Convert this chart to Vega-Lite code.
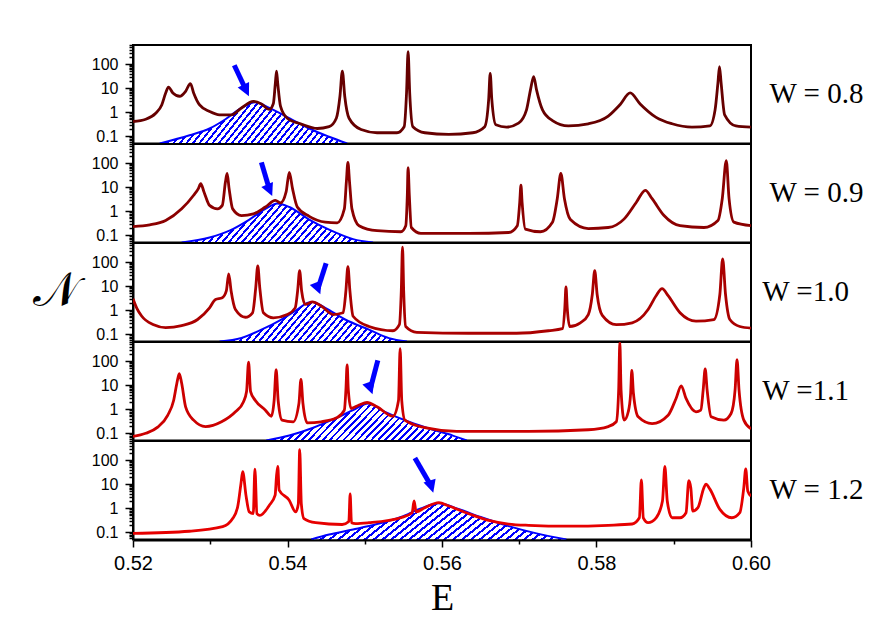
{
  "$schema": "https://vega.github.io/schema/vega-lite/v6.json",
  "background": "white",
  "padding": {"left": 33, "top": 44, "right": 5, "bottom": 5},
  "data": {
    "values": [
      {"W": 0.8, "kind": "curve", "E": 0.52, "N": 0.41},
      {"W": 0.8, "kind": "curve", "E": 0.52165, "N": 0.51},
      {"W": 0.8, "kind": "curve", "E": 0.52294, "N": 0.91},
      {"W": 0.8, "kind": "curve", "E": 0.52372, "N": 2.0},
      {"W": 0.8, "kind": "curve", "E": 0.52423, "N": 6.3},
      {"W": 0.8, "kind": "curve", "E": 0.52459, "N": 11},
      {"W": 0.8, "kind": "curve", "E": 0.52516, "N": 6.3},
      {"W": 0.8, "kind": "curve", "E": 0.52604, "N": 4.6},
      {"W": 0.8, "kind": "curve", "E": 0.52681, "N": 7.4},
      {"W": 0.8, "kind": "curve", "E": 0.52743, "N": 15.5},
      {"W": 0.8, "kind": "curve", "E": 0.52785, "N": 6.3},
      {"W": 0.8, "kind": "curve", "E": 0.52862, "N": 2.0},
      {"W": 0.8, "kind": "curve", "E": 0.52991, "N": 1.07},
      {"W": 0.8, "kind": "curve", "E": 0.5312, "N": 0.78},
      {"W": 0.8, "kind": "curve", "E": 0.53275, "N": 0.78},
      {"W": 0.8, "kind": "curve", "E": 0.53404, "N": 1.5},
      {"W": 0.8, "kind": "curve", "E": 0.53559, "N": 2.8},
      {"W": 0.8, "kind": "curve", "E": 0.53662, "N": 2.2},
      {"W": 0.8, "kind": "curve", "E": 0.53765, "N": 1.3},
      {"W": 0.8, "kind": "curve", "E": 0.53817, "N": 2.3},
      {"W": 0.8, "kind": "curve", "E": 0.53843, "N": 16.6},
      {"W": 0.8, "kind": "curve", "E": 0.53858, "N": 51},
      {"W": 0.8, "kind": "curve", "E": 0.53873, "N": 16.6},
      {"W": 0.8, "kind": "curve", "E": 0.5391, "N": 1.74},
      {"W": 0.8, "kind": "curve", "E": 0.53997, "N": 0.56},
      {"W": 0.8, "kind": "curve", "E": 0.54178, "N": 0.32},
      {"W": 0.8, "kind": "curve", "E": 0.54385, "N": 0.21},
      {"W": 0.8, "kind": "curve", "E": 0.54539, "N": 0.25},
      {"W": 0.8, "kind": "curve", "E": 0.54632, "N": 0.56},
      {"W": 0.8, "kind": "curve", "E": 0.54679, "N": 4.6},
      {"W": 0.8, "kind": "curve", "E": 0.5471, "N": 51},
      {"W": 0.8, "kind": "curve", "E": 0.54741, "N": 4.6},
      {"W": 0.8, "kind": "curve", "E": 0.54797, "N": 0.56},
      {"W": 0.8, "kind": "curve", "E": 0.54952, "N": 0.19},
      {"W": 0.8, "kind": "curve", "E": 0.55159, "N": 0.14},
      {"W": 0.8, "kind": "curve", "E": 0.55417, "N": 0.14},
      {"W": 0.8, "kind": "curve", "E": 0.5551, "N": 0.25},
      {"W": 0.8, "kind": "curve", "E": 0.55541, "N": 6.3},
      {"W": 0.8, "kind": "curve", "E": 0.55561, "N": 330},
      {"W": 0.8, "kind": "curve", "E": 0.55582, "N": 6.3},
      {"W": 0.8, "kind": "curve", "E": 0.55623, "N": 0.25},
      {"W": 0.8, "kind": "curve", "E": 0.55778, "N": 0.14},
      {"W": 0.8, "kind": "curve", "E": 0.56088, "N": 0.12},
      {"W": 0.8, "kind": "curve", "E": 0.56398, "N": 0.14},
      {"W": 0.8, "kind": "curve", "E": 0.56553, "N": 0.25},
      {"W": 0.8, "kind": "curve", "E": 0.56604, "N": 3.3},
      {"W": 0.8, "kind": "curve", "E": 0.56624, "N": 41},
      {"W": 0.8, "kind": "curve", "E": 0.56645, "N": 3.3},
      {"W": 0.8, "kind": "curve", "E": 0.56697, "N": 0.3},
      {"W": 0.8, "kind": "curve", "E": 0.56836, "N": 0.24},
      {"W": 0.8, "kind": "curve", "E": 0.56991, "N": 0.35},
      {"W": 0.8, "kind": "curve", "E": 0.57094, "N": 1.25},
      {"W": 0.8, "kind": "curve", "E": 0.57146, "N": 8.7},
      {"W": 0.8, "kind": "curve", "E": 0.57187, "N": 30},
      {"W": 0.8, "kind": "curve", "E": 0.57223, "N": 8.7},
      {"W": 0.8, "kind": "curve", "E": 0.57301, "N": 1.25},
      {"W": 0.8, "kind": "curve", "E": 0.5743, "N": 0.45},
      {"W": 0.8, "kind": "curve", "E": 0.57636, "N": 0.27},
      {"W": 0.8, "kind": "curve", "E": 0.57894, "N": 0.33},
      {"W": 0.8, "kind": "curve", "E": 0.58152, "N": 0.69},
      {"W": 0.8, "kind": "curve", "E": 0.58307, "N": 2.1},
      {"W": 0.8, "kind": "curve", "E": 0.58436, "N": 6.3},
      {"W": 0.8, "kind": "curve", "E": 0.58565, "N": 2.2},
      {"W": 0.8, "kind": "curve", "E": 0.58772, "N": 0.61},
      {"W": 0.8, "kind": "curve", "E": 0.58978, "N": 0.33},
      {"W": 0.8, "kind": "curve", "E": 0.59236, "N": 0.24},
      {"W": 0.8, "kind": "curve", "E": 0.59468, "N": 0.27},
      {"W": 0.8, "kind": "curve", "E": 0.59535, "N": 1.25},
      {"W": 0.8, "kind": "curve", "E": 0.59572, "N": 16.6},
      {"W": 0.8, "kind": "curve", "E": 0.59592, "N": 78},
      {"W": 0.8, "kind": "curve", "E": 0.59613, "N": 16.6},
      {"W": 0.8, "kind": "curve", "E": 0.59659, "N": 0.78},
      {"W": 0.8, "kind": "curve", "E": 0.59804, "N": 0.27},
      {"W": 0.8, "kind": "curve", "E": 0.6, "N": 0.24},

      {"W": 0.9, "kind": "curve", "E": 0.52, "N": 0.23},
      {"W": 0.9, "kind": "curve", "E": 0.52217, "N": 0.27},
      {"W": 0.9, "kind": "curve", "E": 0.52423, "N": 0.41},
      {"W": 0.9, "kind": "curve", "E": 0.5263, "N": 1.25},
      {"W": 0.9, "kind": "curve", "E": 0.52785, "N": 4.6},
      {"W": 0.9, "kind": "curve", "E": 0.52846, "N": 8.7},
      {"W": 0.9, "kind": "curve", "E": 0.52877, "N": 14},
      {"W": 0.9, "kind": "curve", "E": 0.52919, "N": 6.3},
      {"W": 0.9, "kind": "curve", "E": 0.52991, "N": 1.74},
      {"W": 0.9, "kind": "curve", "E": 0.53094, "N": 1.25},
      {"W": 0.9, "kind": "curve", "E": 0.53156, "N": 1.74},
      {"W": 0.9, "kind": "curve", "E": 0.53197, "N": 16.6},
      {"W": 0.9, "kind": "curve", "E": 0.53218, "N": 37},
      {"W": 0.9, "kind": "curve", "E": 0.53244, "N": 8.7},
      {"W": 0.9, "kind": "curve", "E": 0.5329, "N": 1.25},
      {"W": 0.9, "kind": "curve", "E": 0.53404, "N": 0.66},
      {"W": 0.9, "kind": "curve", "E": 0.53559, "N": 0.78},
      {"W": 0.9, "kind": "curve", "E": 0.53714, "N": 1.5},
      {"W": 0.9, "kind": "curve", "E": 0.53843, "N": 2.8},
      {"W": 0.9, "kind": "curve", "E": 0.5391, "N": 2.2},
      {"W": 0.9, "kind": "curve", "E": 0.53982, "N": 6.3},
      {"W": 0.9, "kind": "curve", "E": 0.54023, "N": 41},
      {"W": 0.9, "kind": "curve", "E": 0.54065, "N": 8.7},
      {"W": 0.9, "kind": "curve", "E": 0.54127, "N": 1.5},
      {"W": 0.9, "kind": "curve", "E": 0.54281, "N": 0.61},
      {"W": 0.9, "kind": "curve", "E": 0.54488, "N": 0.35},
      {"W": 0.9, "kind": "curve", "E": 0.54643, "N": 0.33},
      {"W": 0.9, "kind": "curve", "E": 0.54736, "N": 1.25},
      {"W": 0.9, "kind": "curve", "E": 0.54762, "N": 16.6},
      {"W": 0.9, "kind": "curve", "E": 0.54782, "N": 107},
      {"W": 0.9, "kind": "curve", "E": 0.54803, "N": 16.6},
      {"W": 0.9, "kind": "curve", "E": 0.54834, "N": 1.25},
      {"W": 0.9, "kind": "curve", "E": 0.54926, "N": 0.25},
      {"W": 0.9, "kind": "curve", "E": 0.55159, "N": 0.155},
      {"W": 0.9, "kind": "curve", "E": 0.55468, "N": 0.14},
      {"W": 0.9, "kind": "curve", "E": 0.55531, "N": 0.25},
      {"W": 0.9, "kind": "curve", "E": 0.55551, "N": 4.6},
      {"W": 0.9, "kind": "curve", "E": 0.55561, "N": 65},
      {"W": 0.9, "kind": "curve", "E": 0.55577, "N": 4.6},
      {"W": 0.9, "kind": "curve", "E": 0.55603, "N": 0.21},
      {"W": 0.9, "kind": "curve", "E": 0.55726, "N": 0.12},
      {"W": 0.9, "kind": "curve", "E": 0.56346, "N": 0.12},
      {"W": 0.9, "kind": "curve", "E": 0.56862, "N": 0.13},
      {"W": 0.9, "kind": "curve", "E": 0.56975, "N": 0.25},
      {"W": 0.9, "kind": "curve", "E": 0.57006, "N": 2.3},
      {"W": 0.9, "kind": "curve", "E": 0.57022, "N": 12},
      {"W": 0.9, "kind": "curve", "E": 0.57037, "N": 2.3},
      {"W": 0.9, "kind": "curve", "E": 0.57079, "N": 0.18},
      {"W": 0.9, "kind": "curve", "E": 0.57275, "N": 0.14},
      {"W": 0.9, "kind": "curve", "E": 0.5743, "N": 0.35},
      {"W": 0.9, "kind": "curve", "E": 0.57492, "N": 3.3},
      {"W": 0.9, "kind": "curve", "E": 0.57538, "N": 37},
      {"W": 0.9, "kind": "curve", "E": 0.57585, "N": 3.3},
      {"W": 0.9, "kind": "curve", "E": 0.57662, "N": 0.45},
      {"W": 0.9, "kind": "curve", "E": 0.57894, "N": 0.19},
      {"W": 0.9, "kind": "curve", "E": 0.58152, "N": 0.21},
      {"W": 0.9, "kind": "curve", "E": 0.58359, "N": 0.48},
      {"W": 0.9, "kind": "curve", "E": 0.58514, "N": 2.3},
      {"W": 0.9, "kind": "curve", "E": 0.58632, "N": 7.4},
      {"W": 0.9, "kind": "curve", "E": 0.5872, "N": 3.3},
      {"W": 0.9, "kind": "curve", "E": 0.58874, "N": 0.66},
      {"W": 0.9, "kind": "curve", "E": 0.59081, "N": 0.25},
      {"W": 0.9, "kind": "curve", "E": 0.59391, "N": 0.21},
      {"W": 0.9, "kind": "curve", "E": 0.59572, "N": 0.41},
      {"W": 0.9, "kind": "curve", "E": 0.59628, "N": 3.3},
      {"W": 0.9, "kind": "curve", "E": 0.5968, "N": 125},
      {"W": 0.9, "kind": "curve", "E": 0.59716, "N": 3.3},
      {"W": 0.9, "kind": "curve", "E": 0.59778, "N": 0.35},
      {"W": 0.9, "kind": "curve", "E": 0.6, "N": 0.25},

      {"W": 1, "kind": "curve", "E": 0.52, "N": 3.0},
      {"W": 1, "kind": "curve", "E": 0.5205, "N": 1.2},
      {"W": 1, "kind": "curve", "E": 0.52114, "N": 0.56},
      {"W": 1, "kind": "curve", "E": 0.52268, "N": 0.25},
      {"W": 1, "kind": "curve", "E": 0.52423, "N": 0.19},
      {"W": 1, "kind": "curve", "E": 0.5263, "N": 0.23},
      {"W": 1, "kind": "curve", "E": 0.52836, "N": 0.41},
      {"W": 1, "kind": "curve", "E": 0.52991, "N": 1.25},
      {"W": 1, "kind": "curve", "E": 0.53068, "N": 2.8},
      {"W": 1, "kind": "curve", "E": 0.53156, "N": 3.3},
      {"W": 1, "kind": "curve", "E": 0.53208, "N": 6.3},
      {"W": 1, "kind": "curve", "E": 0.53239, "N": 32},
      {"W": 1, "kind": "curve", "E": 0.5327, "N": 6.3},
      {"W": 1, "kind": "curve", "E": 0.53326, "N": 1.07},
      {"W": 1, "kind": "curve", "E": 0.53455, "N": 0.51},
      {"W": 1, "kind": "curve", "E": 0.53548, "N": 0.78},
      {"W": 1, "kind": "curve", "E": 0.53589, "N": 8.7},
      {"W": 1, "kind": "curve", "E": 0.53615, "N": 70},
      {"W": 1, "kind": "curve", "E": 0.53641, "N": 8.7},
      {"W": 1, "kind": "curve", "E": 0.53688, "N": 0.78},
      {"W": 1, "kind": "curve", "E": 0.53817, "N": 0.48},
      {"W": 1, "kind": "curve", "E": 0.53997, "N": 0.66},
      {"W": 1, "kind": "curve", "E": 0.541, "N": 1.25},
      {"W": 1, "kind": "curve", "E": 0.54131, "N": 6.3},
      {"W": 1, "kind": "curve", "E": 0.54157, "N": 44},
      {"W": 1, "kind": "curve", "E": 0.54183, "N": 6.3},
      {"W": 1, "kind": "curve", "E": 0.5423, "N": 1.74},
      {"W": 1, "kind": "curve", "E": 0.54323, "N": 2.2},
      {"W": 1, "kind": "curve", "E": 0.54436, "N": 1.5},
      {"W": 1, "kind": "curve", "E": 0.54591, "N": 0.66},
      {"W": 1, "kind": "curve", "E": 0.5472, "N": 0.78},
      {"W": 1, "kind": "curve", "E": 0.54756, "N": 6.3},
      {"W": 1, "kind": "curve", "E": 0.54782, "N": 65},
      {"W": 1, "kind": "curve", "E": 0.54808, "N": 6.3},
      {"W": 1, "kind": "curve", "E": 0.54849, "N": 0.56},
      {"W": 1, "kind": "curve", "E": 0.55055, "N": 0.21},
      {"W": 1, "kind": "curve", "E": 0.55365, "N": 0.14},
      {"W": 1, "kind": "curve", "E": 0.55448, "N": 0.25},
      {"W": 1, "kind": "curve", "E": 0.55473, "N": 6.3},
      {"W": 1, "kind": "curve", "E": 0.55489, "N": 420},
      {"W": 1, "kind": "curve", "E": 0.55504, "N": 6.3},
      {"W": 1, "kind": "curve", "E": 0.5553, "N": 0.21},
      {"W": 1, "kind": "curve", "E": 0.55674, "N": 0.12},
      {"W": 1, "kind": "curve", "E": 0.56346, "N": 0.11},
      {"W": 1, "kind": "curve", "E": 0.56965, "N": 0.11},
      {"W": 1, "kind": "curve", "E": 0.57378, "N": 0.14},
      {"W": 1, "kind": "curve", "E": 0.57559, "N": 0.17},
      {"W": 1, "kind": "curve", "E": 0.5759, "N": 1.25},
      {"W": 1, "kind": "curve", "E": 0.57605, "N": 9.4},
      {"W": 1, "kind": "curve", "E": 0.57621, "N": 1.25},
      {"W": 1, "kind": "curve", "E": 0.57652, "N": 0.21},
      {"W": 1, "kind": "curve", "E": 0.57791, "N": 0.3},
      {"W": 1, "kind": "curve", "E": 0.57894, "N": 0.66},
      {"W": 1, "kind": "curve", "E": 0.57946, "N": 4.6},
      {"W": 1, "kind": "curve", "E": 0.57977, "N": 44},
      {"W": 1, "kind": "curve", "E": 0.58008, "N": 4.6},
      {"W": 1, "kind": "curve", "E": 0.58075, "N": 0.61},
      {"W": 1, "kind": "curve", "E": 0.58256, "N": 0.25},
      {"W": 1, "kind": "curve", "E": 0.58462, "N": 0.3},
      {"W": 1, "kind": "curve", "E": 0.58668, "N": 1.07},
      {"W": 1, "kind": "curve", "E": 0.58772, "N": 4.0},
      {"W": 1, "kind": "curve", "E": 0.58849, "N": 7.9},
      {"W": 1, "kind": "curve", "E": 0.58927, "N": 4.0},
      {"W": 1, "kind": "curve", "E": 0.59081, "N": 0.78},
      {"W": 1, "kind": "curve", "E": 0.59288, "N": 0.35},
      {"W": 1, "kind": "curve", "E": 0.5952, "N": 0.41},
      {"W": 1, "kind": "curve", "E": 0.59597, "N": 4.6},
      {"W": 1, "kind": "curve", "E": 0.59633, "N": 135},
      {"W": 1, "kind": "curve", "E": 0.5967, "N": 4.6},
      {"W": 1, "kind": "curve", "E": 0.59726, "N": 0.41},
      {"W": 1, "kind": "curve", "E": 0.59855, "N": 0.21},
      {"W": 1, "kind": "curve", "E": 0.6, "N": 0.18},

      {"W": 1.1, "kind": "curve", "E": 0.52, "N": 0.074},
      {"W": 1.1, "kind": "curve", "E": 0.52165, "N": 0.1},
      {"W": 1.1, "kind": "curve", "E": 0.5232, "N": 0.18},
      {"W": 1.1, "kind": "curve", "E": 0.52449, "N": 0.56},
      {"W": 1.1, "kind": "curve", "E": 0.52526, "N": 2.3},
      {"W": 1.1, "kind": "curve", "E": 0.52568, "N": 12},
      {"W": 1.1, "kind": "curve", "E": 0.52599, "N": 30},
      {"W": 1.1, "kind": "curve", "E": 0.5263, "N": 12},
      {"W": 1.1, "kind": "curve", "E": 0.52681, "N": 1.25},
      {"W": 1.1, "kind": "curve", "E": 0.52785, "N": 0.35},
      {"W": 1.1, "kind": "curve", "E": 0.52939, "N": 0.19},
      {"W": 1.1, "kind": "curve", "E": 0.53146, "N": 0.3},
      {"W": 1.1, "kind": "curve", "E": 0.53326, "N": 0.78},
      {"W": 1.1, "kind": "curve", "E": 0.53429, "N": 2.0},
      {"W": 1.1, "kind": "curve", "E": 0.5347, "N": 5.4},
      {"W": 1.1, "kind": "curve", "E": 0.53496, "N": 90},
      {"W": 1.1, "kind": "curve", "E": 0.53522, "N": 5.4},
      {"W": 1.1, "kind": "curve", "E": 0.53584, "N": 2.3},
      {"W": 1.1, "kind": "curve", "E": 0.53714, "N": 0.91},
      {"W": 1.1, "kind": "curve", "E": 0.53791, "N": 0.51},
      {"W": 1.1, "kind": "curve", "E": 0.53827, "N": 2.3},
      {"W": 1.1, "kind": "curve", "E": 0.53853, "N": 44},
      {"W": 1.1, "kind": "curve", "E": 0.53879, "N": 2.3},
      {"W": 1.1, "kind": "curve", "E": 0.5393, "N": 0.35},
      {"W": 1.1, "kind": "curve", "E": 0.54075, "N": 0.3},
      {"W": 1.1, "kind": "curve", "E": 0.54148, "N": 1.74},
      {"W": 1.1, "kind": "curve", "E": 0.54174, "N": 17.5},
      {"W": 1.1, "kind": "curve", "E": 0.542, "N": 1.74},
      {"W": 1.1, "kind": "curve", "E": 0.54256, "N": 0.27},
      {"W": 1.1, "kind": "curve", "E": 0.54436, "N": 0.3},
      {"W": 1.1, "kind": "curve", "E": 0.54643, "N": 0.45},
      {"W": 1.1, "kind": "curve", "E": 0.54736, "N": 0.91},
      {"W": 1.1, "kind": "curve", "E": 0.54756, "N": 6.3},
      {"W": 1.1, "kind": "curve", "E": 0.54772, "N": 70},
      {"W": 1.1, "kind": "curve", "E": 0.54787, "N": 6.3},
      {"W": 1.1, "kind": "curve", "E": 0.54823, "N": 1.07},
      {"W": 1.1, "kind": "curve", "E": 0.54926, "N": 1.5},
      {"W": 1.1, "kind": "curve", "E": 0.5503, "N": 1.9},
      {"W": 1.1, "kind": "curve", "E": 0.55159, "N": 1.25},
      {"W": 1.1, "kind": "curve", "E": 0.55365, "N": 0.51},
      {"W": 1.1, "kind": "curve", "E": 0.55437, "N": 2.3},
      {"W": 1.1, "kind": "curve", "E": 0.55458, "N": 330},
      {"W": 1.1, "kind": "curve", "E": 0.55479, "N": 2.3},
      {"W": 1.1, "kind": "curve", "E": 0.5552, "N": 0.35},
      {"W": 1.1, "kind": "curve", "E": 0.55778, "N": 0.17},
      {"W": 1.1, "kind": "curve", "E": 0.56191, "N": 0.12},
      {"W": 1.1, "kind": "curve", "E": 0.5712, "N": 0.12},
      {"W": 1.1, "kind": "curve", "E": 0.57894, "N": 0.14},
      {"W": 1.1, "kind": "curve", "E": 0.58152, "N": 0.19},
      {"W": 1.1, "kind": "curve", "E": 0.58256, "N": 0.3},
      {"W": 1.1, "kind": "curve", "E": 0.58287, "N": 6.3},
      {"W": 1.1, "kind": "curve", "E": 0.58302, "N": 600},
      {"W": 1.1, "kind": "curve", "E": 0.58318, "N": 6.3},
      {"W": 1.1, "kind": "curve", "E": 0.58359, "N": 0.35},
      {"W": 1.1, "kind": "curve", "E": 0.58411, "N": 0.78},
      {"W": 1.1, "kind": "curve", "E": 0.58442, "N": 4.6},
      {"W": 1.1, "kind": "curve", "E": 0.58457, "N": 41},
      {"W": 1.1, "kind": "curve", "E": 0.58478, "N": 4.6},
      {"W": 1.1, "kind": "curve", "E": 0.5854, "N": 0.48},
      {"W": 1.1, "kind": "curve", "E": 0.5872, "N": 0.25},
      {"W": 1.1, "kind": "curve", "E": 0.58927, "N": 0.56},
      {"W": 1.1, "kind": "curve", "E": 0.5903, "N": 2.8},
      {"W": 1.1, "kind": "curve", "E": 0.59097, "N": 9.4},
      {"W": 1.1, "kind": "curve", "E": 0.59159, "N": 2.8},
      {"W": 1.1, "kind": "curve", "E": 0.59288, "N": 0.78},
      {"W": 1.1, "kind": "curve", "E": 0.5935, "N": 0.91},
      {"W": 1.1, "kind": "curve", "E": 0.59381, "N": 6.3},
      {"W": 1.1, "kind": "curve", "E": 0.59407, "N": 47},
      {"W": 1.1, "kind": "curve", "E": 0.59432, "N": 6.3},
      {"W": 1.1, "kind": "curve", "E": 0.59484, "N": 0.48},
      {"W": 1.1, "kind": "curve", "E": 0.59649, "N": 0.35},
      {"W": 1.1, "kind": "curve", "E": 0.59742, "N": 0.66},
      {"W": 1.1, "kind": "curve", "E": 0.59794, "N": 6.3},
      {"W": 1.1, "kind": "curve", "E": 0.59819, "N": 115},
      {"W": 1.1, "kind": "curve", "E": 0.59845, "N": 6.3},
      {"W": 1.1, "kind": "curve", "E": 0.59907, "N": 0.35},
      {"W": 1.1, "kind": "curve", "E": 0.6, "N": 0.155},

      {"W": 1.2, "kind": "curve", "E": 0.52, "N": 0.09},
      {"W": 1.2, "kind": "curve", "E": 0.52731, "N": 0.11},
      {"W": 1.2, "kind": "curve", "E": 0.53161, "N": 0.17},
      {"W": 1.2, "kind": "curve", "E": 0.5329, "N": 0.37},
      {"W": 1.2, "kind": "curve", "E": 0.53355, "N": 1.15},
      {"W": 1.2, "kind": "curve", "E": 0.53398, "N": 10.8},
      {"W": 1.2, "kind": "curve", "E": 0.5342, "N": 33},
      {"W": 1.2, "kind": "curve", "E": 0.53462, "N": 3.5},
      {"W": 1.2, "kind": "curve", "E": 0.53505, "N": 0.7},
      {"W": 1.2, "kind": "curve", "E": 0.53557, "N": 0.6},
      {"W": 1.2, "kind": "curve", "E": 0.53578, "N": 42},
      {"W": 1.2, "kind": "curve", "E": 0.53604, "N": 0.6},
      {"W": 1.2, "kind": "curve", "E": 0.53642, "N": 0.5},
      {"W": 1.2, "kind": "curve", "E": 0.53763, "N": 1.3},
      {"W": 1.2, "kind": "curve", "E": 0.5384, "N": 3.5},
      {"W": 1.2, "kind": "curve", "E": 0.53857, "N": 20},
      {"W": 1.2, "kind": "curve", "E": 0.53874, "N": 54},
      {"W": 1.2, "kind": "curve", "E": 0.53892, "N": 5.7},
      {"W": 1.2, "kind": "curve", "E": 0.5402, "N": 2.2},
      {"W": 1.2, "kind": "curve", "E": 0.54106, "N": 0.7},
      {"W": 1.2, "kind": "curve", "E": 0.5414, "N": 1.5},
      {"W": 1.2, "kind": "curve", "E": 0.54158, "N": 270},
      {"W": 1.2, "kind": "curve", "E": 0.54179, "N": 1.5},
      {"W": 1.2, "kind": "curve", "E": 0.54213, "N": 0.37},
      {"W": 1.2, "kind": "curve", "E": 0.54364, "N": 0.25},
      {"W": 1.2, "kind": "curve", "E": 0.54708, "N": 0.21},
      {"W": 1.2, "kind": "curve", "E": 0.54794, "N": 0.28},
      {"W": 1.2, "kind": "curve", "E": 0.54811, "N": 3.9},
      {"W": 1.2, "kind": "curve", "E": 0.54828, "N": 0.25},
      {"W": 1.2, "kind": "curve", "E": 0.5488, "N": 0.23},
      {"W": 1.2, "kind": "curve", "E": 0.55055, "N": 0.25},
      {"W": 1.2, "kind": "curve", "E": 0.55468, "N": 0.4},
      {"W": 1.2, "kind": "curve", "E": 0.55613, "N": 0.65},
      {"W": 1.2, "kind": "curve", "E": 0.55639, "N": 2.0},
      {"W": 1.2, "kind": "curve", "E": 0.55665, "N": 0.71},
      {"W": 1.2, "kind": "curve", "E": 0.55778, "N": 1.05},
      {"W": 1.2, "kind": "curve", "E": 0.55959, "N": 1.7},
      {"W": 1.2, "kind": "curve", "E": 0.56088, "N": 1.23},
      {"W": 1.2, "kind": "curve", "E": 0.56346, "N": 0.59},
      {"W": 1.2, "kind": "curve", "E": 0.56604, "N": 0.31},
      {"W": 1.2, "kind": "curve", "E": 0.56862, "N": 0.22},
      {"W": 1.2, "kind": "curve", "E": 0.5712, "N": 0.195},
      {"W": 1.2, "kind": "curve", "E": 0.57636, "N": 0.18},
      {"W": 1.2, "kind": "curve", "E": 0.58152, "N": 0.195},
      {"W": 1.2, "kind": "curve", "E": 0.58462, "N": 0.22},
      {"W": 1.2, "kind": "curve", "E": 0.58555, "N": 0.4},
      {"W": 1.2, "kind": "curve", "E": 0.58581, "N": 15},
      {"W": 1.2, "kind": "curve", "E": 0.58606, "N": 0.4},
      {"W": 1.2, "kind": "curve", "E": 0.58668, "N": 0.25},
      {"W": 1.2, "kind": "curve", "E": 0.58772, "N": 0.4},
      {"W": 1.2, "kind": "curve", "E": 0.58854, "N": 2.0},
      {"W": 1.2, "kind": "curve", "E": 0.58885, "N": 54},
      {"W": 1.2, "kind": "curve", "E": 0.58916, "N": 2.0},
      {"W": 1.2, "kind": "curve", "E": 0.58978, "N": 0.4},
      {"W": 1.2, "kind": "curve", "E": 0.59081, "N": 0.4},
      {"W": 1.2, "kind": "curve", "E": 0.59159, "N": 0.65},
      {"W": 1.2, "kind": "curve", "E": 0.59195, "N": 14},
      {"W": 1.2, "kind": "curve", "E": 0.59221, "N": 7},
      {"W": 1.2, "kind": "curve", "E": 0.59246, "N": 0.76},
      {"W": 1.2, "kind": "curve", "E": 0.59313, "N": 1.05},
      {"W": 1.2, "kind": "curve", "E": 0.59391, "N": 7.2},
      {"W": 1.2, "kind": "curve", "E": 0.59417, "N": 10},
      {"W": 1.2, "kind": "curve", "E": 0.59468, "N": 6.2},
      {"W": 1.2, "kind": "curve", "E": 0.59597, "N": 0.89},
      {"W": 1.2, "kind": "curve", "E": 0.59752, "N": 0.4},
      {"W": 1.2, "kind": "curve", "E": 0.59855, "N": 0.65},
      {"W": 1.2, "kind": "curve", "E": 0.59907, "N": 7.2},
      {"W": 1.2, "kind": "curve", "E": 0.59932, "N": 43},
      {"W": 1.2, "kind": "curve", "E": 0.59958, "N": 5.2},
      {"W": 1.2, "kind": "curve", "E": 0.6, "N": 3.2},

      {"W": 0.8, "kind": "band", "E": 0.52346, "N": 0.05},
      {"W": 0.8, "kind": "band", "E": 0.52733, "N": 0.11},
      {"W": 0.8, "kind": "band", "E": 0.52991, "N": 0.21},
      {"W": 0.8, "kind": "band", "E": 0.53197, "N": 0.51},
      {"W": 0.8, "kind": "band", "E": 0.53404, "N": 1.5},
      {"W": 0.8, "kind": "band", "E": 0.53585, "N": 2.6},
      {"W": 0.8, "kind": "band", "E": 0.53765, "N": 1.5},
      {"W": 0.8, "kind": "band", "E": 0.54023, "N": 0.56},
      {"W": 0.8, "kind": "band", "E": 0.54281, "N": 0.21},
      {"W": 0.8, "kind": "band", "E": 0.54539, "N": 0.095},
      {"W": 0.8, "kind": "band", "E": 0.54772, "N": 0.05},
      {"W": 0.9, "kind": "band", "E": 0.5263, "N": 0.05},
      {"W": 0.9, "kind": "band", "E": 0.52991, "N": 0.08},
      {"W": 0.9, "kind": "band", "E": 0.53249, "N": 0.155},
      {"W": 0.9, "kind": "band", "E": 0.53507, "N": 0.45},
      {"W": 0.9, "kind": "band", "E": 0.53714, "N": 1.25},
      {"W": 0.9, "kind": "band", "E": 0.53868, "N": 2.1},
      {"W": 0.9, "kind": "band", "E": 0.54023, "N": 1.5},
      {"W": 0.9, "kind": "band", "E": 0.54281, "N": 0.45},
      {"W": 0.9, "kind": "band", "E": 0.54539, "N": 0.17},
      {"W": 0.9, "kind": "band", "E": 0.54849, "N": 0.069},
      {"W": 0.9, "kind": "band", "E": 0.55107, "N": 0.05},
      {"W": 1, "kind": "band", "E": 0.5312, "N": 0.05},
      {"W": 1, "kind": "band", "E": 0.53404, "N": 0.07},
      {"W": 1, "kind": "band", "E": 0.53662, "N": 0.155},
      {"W": 1, "kind": "band", "E": 0.5392, "N": 0.41},
      {"W": 1, "kind": "band", "E": 0.54127, "N": 1.07},
      {"W": 1, "kind": "band", "E": 0.54256, "N": 2.0},
      {"W": 1, "kind": "band", "E": 0.54323, "N": 2.2},
      {"W": 1, "kind": "band", "E": 0.54488, "N": 1.25},
      {"W": 1, "kind": "band", "E": 0.54746, "N": 0.41},
      {"W": 1, "kind": "band", "E": 0.55055, "N": 0.155},
      {"W": 1, "kind": "band", "E": 0.55313, "N": 0.069},
      {"W": 1, "kind": "band", "E": 0.55546, "N": 0.05},
      {"W": 1.1, "kind": "band", "E": 0.53725, "N": 0.05},
      {"W": 1.1, "kind": "band", "E": 0.54023, "N": 0.08},
      {"W": 1.1, "kind": "band", "E": 0.54333, "N": 0.17},
      {"W": 1.1, "kind": "band", "E": 0.54643, "N": 0.45},
      {"W": 1.1, "kind": "band", "E": 0.54849, "N": 0.91},
      {"W": 1.1, "kind": "band", "E": 0.55045, "N": 1.74},
      {"W": 1.1, "kind": "band", "E": 0.55262, "N": 0.78},
      {"W": 1.1, "kind": "band", "E": 0.55572, "N": 0.3},
      {"W": 1.1, "kind": "band", "E": 0.55881, "N": 0.14},
      {"W": 1.1, "kind": "band", "E": 0.5614, "N": 0.08},
      {"W": 1.1, "kind": "band", "E": 0.5632, "N": 0.05},
      {"W": 1.2, "kind": "band", "E": 0.54307, "N": 0.05},
      {"W": 1.2, "kind": "band", "E": 0.54539, "N": 0.08},
      {"W": 1.2, "kind": "band", "E": 0.54849, "N": 0.13},
      {"W": 1.2, "kind": "band", "E": 0.55159, "N": 0.22},
      {"W": 1.2, "kind": "band", "E": 0.55468, "N": 0.43},
      {"W": 1.2, "kind": "band", "E": 0.55726, "N": 0.98},
      {"W": 1.2, "kind": "band", "E": 0.55959, "N": 1.6},
      {"W": 1.2, "kind": "band", "E": 0.56191, "N": 0.98},
      {"W": 1.2, "kind": "band", "E": 0.56501, "N": 0.43},
      {"W": 1.2, "kind": "band", "E": 0.56862, "N": 0.18},
      {"W": 1.2, "kind": "band", "E": 0.57223, "N": 0.09},
      {"W": 1.2, "kind": "band", "E": 0.5761, "N": 0.05},

      {"W": 0.8, "kind": "arrow", "E": 0.53311, "N": 89, "E2": 0.53465, "N2": 8.0},
      {"W": 0.9, "kind": "arrow", "E": 0.53662, "N": 107, "E2": 0.53769, "N2": 7.4},
      {"W": 1, "kind": "arrow", "E": 0.545, "N": 89, "E2": 0.54395, "N2": 8.0},
      {"W": 1.1, "kind": "arrow", "E": 0.55169, "N": 107, "E2": 0.55074, "N2": 7.4},
      {"W": 1.2, "kind": "arrow", "E": 0.55649, "N": 123, "E2": 0.55863, "N2": 7.9}
    ]
  },
  "spacing": 0,
  "bounds": "flush",
  "facet": {
    "row": {
      "field": "W",
      "type": "ordinal",
      "title": "𝒩",
      "header": {
        "titleOrient": "left",
        "titleAngle": 0,
        "titleFont": "DejaVu Serif",
        "titleFontSize": 48,
        "titleFontWeight": "normal",
        "titleColor": "black",
        "titlePadding": -44,
        "labelOrient": "right",
        "labelAngle": 0,
        "labelAlign": "left",
        "labelFont": "Liberation Serif",
        "labelFontSize": 29,
        "labelColor": "black",
        "labelPadding": -76,
        "labelExpr": "datum.value == 1 ? 'W =1.0' : datum.value == 1.1 ? 'W =1.1' : 'W = ' + format(datum.value, '.1f')"
      }
    }
  },
  "spec": {
    "width": 618,
    "height": 98.5,
    "encoding": {
      "x": {
        "field": "E",
        "type": "quantitative",
        "scale": {"domain": [0.52, 0.6], "nice": false, "zero": false},
        "axis": {
          "title": "E",
          "values": [0.52, 0.53, 0.54, 0.55, 0.56, 0.57, 0.58, 0.59, 0.6],
          "labelExpr": "round(datum.value * 100) % 2 == 0 ? format(datum.value, '.2f') : ''",
          "tickSize": {"condition": {"test": "round(datum.value * 100) % 2 == 0", "value": 7}, "value": 4},
          "labelFlush": false,
          "labelFont": "Liberation Sans",
          "labelFontSize": 20,
          "labelPadding": 6,
          "titleFont": "Liberation Serif",
          "titleFontSize": 38,
          "titleFontWeight": "normal",
          "titlePadding": 6
        }
      },
      "y": {
        "field": "N",
        "type": "quantitative",
        "scale": {"type": "log", "domain": [0.05, 620], "nice": false},
        "axis": {
          "title": null,
          "values": [0.06, 0.07, 0.08, 0.09, 0.1, 0.2, 0.3, 0.4, 0.5, 0.6, 0.7, 0.8, 0.9, 1, 2, 3, 4, 5, 6, 7, 8, 9, 10, 20, 30, 40, 50, 60, 70, 80, 90, 100, 200, 300, 400, 500, 600],
          "labelExpr": "datum.value == 0.1 ? '0.1' : datum.value == 1 ? '1' : datum.value == 10 ? '10' : datum.value == 100 ? '100' : ''",
          "tickSize": {"condition": {"test": "datum.value == 0.1 || datum.value == 1 || datum.value == 10 || datum.value == 100", "value": 8}, "value": 4},
          "labelFont": "Liberation Sans",
          "labelFontSize": 16,
          "labelPadding": 7
        }
      }
    },
    "layer": [
      {
        "transform": [{"filter": "datum.kind == 'band'"}],
        "mark": {
          "type": "area",
          "clip": true,
          "interpolate": "monotone",
          "color": {
            "gradient": "linear",
            "x1": 0, "y1": 0, "x2": 1.142, "y2": 0.2025,
            "stops": [
              {"offset": 0, "color": "#0000ff"}, {"offset": 0.0112, "color": "#0000ff"}, {"offset": 0.0112, "color": "#ffffff"}, {"offset": 0.0294, "color": "#ffffff"},
              {"offset": 0.0294, "color": "#0000ff"}, {"offset": 0.0406, "color": "#0000ff"}, {"offset": 0.0406, "color": "#ffffff"}, {"offset": 0.0588, "color": "#ffffff"},
              {"offset": 0.0588, "color": "#0000ff"}, {"offset": 0.07, "color": "#0000ff"}, {"offset": 0.07, "color": "#ffffff"}, {"offset": 0.0882, "color": "#ffffff"},
              {"offset": 0.0882, "color": "#0000ff"}, {"offset": 0.0994, "color": "#0000ff"}, {"offset": 0.0994, "color": "#ffffff"}, {"offset": 0.1176, "color": "#ffffff"},
              {"offset": 0.1176, "color": "#0000ff"}, {"offset": 0.1288, "color": "#0000ff"}, {"offset": 0.1288, "color": "#ffffff"}, {"offset": 0.1471, "color": "#ffffff"},
              {"offset": 0.1471, "color": "#0000ff"}, {"offset": 0.1583, "color": "#0000ff"}, {"offset": 0.1583, "color": "#ffffff"}, {"offset": 0.1765, "color": "#ffffff"},
              {"offset": 0.1765, "color": "#0000ff"}, {"offset": 0.1877, "color": "#0000ff"}, {"offset": 0.1877, "color": "#ffffff"}, {"offset": 0.2059, "color": "#ffffff"},
              {"offset": 0.2059, "color": "#0000ff"}, {"offset": 0.2171, "color": "#0000ff"}, {"offset": 0.2171, "color": "#ffffff"}, {"offset": 0.2353, "color": "#ffffff"},
              {"offset": 0.2353, "color": "#0000ff"}, {"offset": 0.2465, "color": "#0000ff"}, {"offset": 0.2465, "color": "#ffffff"}, {"offset": 0.2647, "color": "#ffffff"},
              {"offset": 0.2647, "color": "#0000ff"}, {"offset": 0.2759, "color": "#0000ff"}, {"offset": 0.2759, "color": "#ffffff"}, {"offset": 0.2941, "color": "#ffffff"},
              {"offset": 0.2941, "color": "#0000ff"}, {"offset": 0.3053, "color": "#0000ff"}, {"offset": 0.3053, "color": "#ffffff"}, {"offset": 0.3235, "color": "#ffffff"},
              {"offset": 0.3235, "color": "#0000ff"}, {"offset": 0.3347, "color": "#0000ff"}, {"offset": 0.3347, "color": "#ffffff"}, {"offset": 0.3529, "color": "#ffffff"},
              {"offset": 0.3529, "color": "#0000ff"}, {"offset": 0.3641, "color": "#0000ff"}, {"offset": 0.3641, "color": "#ffffff"}, {"offset": 0.3824, "color": "#ffffff"},
              {"offset": 0.3824, "color": "#0000ff"}, {"offset": 0.3936, "color": "#0000ff"}, {"offset": 0.3936, "color": "#ffffff"}, {"offset": 0.4118, "color": "#ffffff"},
              {"offset": 0.4118, "color": "#0000ff"}, {"offset": 0.423, "color": "#0000ff"}, {"offset": 0.423, "color": "#ffffff"}, {"offset": 0.4412, "color": "#ffffff"},
              {"offset": 0.4412, "color": "#0000ff"}, {"offset": 0.4524, "color": "#0000ff"}, {"offset": 0.4524, "color": "#ffffff"}, {"offset": 0.4706, "color": "#ffffff"},
              {"offset": 0.4706, "color": "#0000ff"}, {"offset": 0.4818, "color": "#0000ff"}, {"offset": 0.4818, "color": "#ffffff"}, {"offset": 0.5, "color": "#ffffff"},
              {"offset": 0.5, "color": "#0000ff"}, {"offset": 0.5112, "color": "#0000ff"}, {"offset": 0.5112, "color": "#ffffff"}, {"offset": 0.5294, "color": "#ffffff"},
              {"offset": 0.5294, "color": "#0000ff"}, {"offset": 0.5406, "color": "#0000ff"}, {"offset": 0.5406, "color": "#ffffff"}, {"offset": 0.5588, "color": "#ffffff"},
              {"offset": 0.5588, "color": "#0000ff"}, {"offset": 0.57, "color": "#0000ff"}, {"offset": 0.57, "color": "#ffffff"}, {"offset": 0.5882, "color": "#ffffff"},
              {"offset": 0.5882, "color": "#0000ff"}, {"offset": 0.5994, "color": "#0000ff"}, {"offset": 0.5994, "color": "#ffffff"}, {"offset": 0.6176, "color": "#ffffff"},
              {"offset": 0.6176, "color": "#0000ff"}, {"offset": 0.6288, "color": "#0000ff"}, {"offset": 0.6288, "color": "#ffffff"}, {"offset": 0.6471, "color": "#ffffff"},
              {"offset": 0.6471, "color": "#0000ff"}, {"offset": 0.6583, "color": "#0000ff"}, {"offset": 0.6583, "color": "#ffffff"}, {"offset": 0.6765, "color": "#ffffff"},
              {"offset": 0.6765, "color": "#0000ff"}, {"offset": 0.6877, "color": "#0000ff"}, {"offset": 0.6877, "color": "#ffffff"}, {"offset": 0.7059, "color": "#ffffff"},
              {"offset": 0.7059, "color": "#0000ff"}, {"offset": 0.7171, "color": "#0000ff"}, {"offset": 0.7171, "color": "#ffffff"}, {"offset": 0.7353, "color": "#ffffff"},
              {"offset": 0.7353, "color": "#0000ff"}, {"offset": 0.7465, "color": "#0000ff"}, {"offset": 0.7465, "color": "#ffffff"}, {"offset": 0.7647, "color": "#ffffff"},
              {"offset": 0.7647, "color": "#0000ff"}, {"offset": 0.7759, "color": "#0000ff"}, {"offset": 0.7759, "color": "#ffffff"}, {"offset": 0.7941, "color": "#ffffff"},
              {"offset": 0.7941, "color": "#0000ff"}, {"offset": 0.8053, "color": "#0000ff"}, {"offset": 0.8053, "color": "#ffffff"}, {"offset": 0.8235, "color": "#ffffff"},
              {"offset": 0.8235, "color": "#0000ff"}, {"offset": 0.8347, "color": "#0000ff"}, {"offset": 0.8347, "color": "#ffffff"}, {"offset": 0.8529, "color": "#ffffff"},
              {"offset": 0.8529, "color": "#0000ff"}, {"offset": 0.8641, "color": "#0000ff"}, {"offset": 0.8641, "color": "#ffffff"}, {"offset": 0.8824, "color": "#ffffff"},
              {"offset": 0.8824, "color": "#0000ff"}, {"offset": 0.8936, "color": "#0000ff"}, {"offset": 0.8936, "color": "#ffffff"}, {"offset": 0.9118, "color": "#ffffff"},
              {"offset": 0.9118, "color": "#0000ff"}, {"offset": 0.923, "color": "#0000ff"}, {"offset": 0.923, "color": "#ffffff"}, {"offset": 0.9412, "color": "#ffffff"},
              {"offset": 0.9412, "color": "#0000ff"}, {"offset": 0.9524, "color": "#0000ff"}, {"offset": 0.9524, "color": "#ffffff"}, {"offset": 0.9706, "color": "#ffffff"},
              {"offset": 0.9706, "color": "#0000ff"}, {"offset": 0.9818, "color": "#0000ff"}, {"offset": 0.9818, "color": "#ffffff"}, {"offset": 1, "color": "#ffffff"}
            ]
          }
        },
        "encoding": {
          "y2": {"datum": 0.05}
        }
      },
      {
        "transform": [{"filter": "datum.kind == 'band'"}],
        "mark": {"type": "line", "clip": true, "interpolate": "monotone", "color": "#0000ff", "strokeWidth": 2}
      },
      {
        "transform": [{"filter": "datum.kind == 'curve'"}],
        "mark": {"type": "line", "clip": true, "interpolate": "monotone", "strokeWidth": 2.8},
        "encoding": {
          "color": {
            "field": "W",
            "type": "ordinal",
            "scale": {"domain": [0.8, 0.9, 1, 1.1, 1.2], "range": ["#660000", "#8b0000", "#aa0000", "#cc0000", "#e60000"]},
            "legend": null
          }
        }
      },
      {
        "transform": [{"filter": "datum.kind == 'arrow'"}],
        "mark": {"type": "rule", "color": "#0000ff", "strokeWidth": 5, "clip": true},
        "encoding": {
          "x2": {"field": "E2"},
          "y2": {"field": "N2"}
        }
      },
      {
        "transform": [{"filter": "datum.kind == 'arrow'"}],
        "mark": {"type": "point", "shape": "M-1,-1L1,-1L0,1Z", "filled": true, "color": "#0000ff", "opacity": 1, "size": 160, "strokeWidth": 0},
        "encoding": {
          "x": {"field": "E2", "type": "quantitative"},
          "y": {"field": "N2", "type": "quantitative"},
          "angle": {
            "field": "W",
            "type": "ordinal",
            "scale": {"domain": [0.8, 0.9, 1, 1.1, 1.2], "range": [334, 343, 18, 15, 330]},
            "legend": null
          }
        }
      }
    ]
  },
  "config": {
    "view": {"stroke": "black", "strokeWidth": 2},
    "axis": {
      "grid": false,
      "domainColor": "black",
      "domainWidth": 2,
      "tickColor": "black",
      "tickWidth": 1.5,
      "labelColor": "black",
      "titleColor": "black"
    }
  }
}
